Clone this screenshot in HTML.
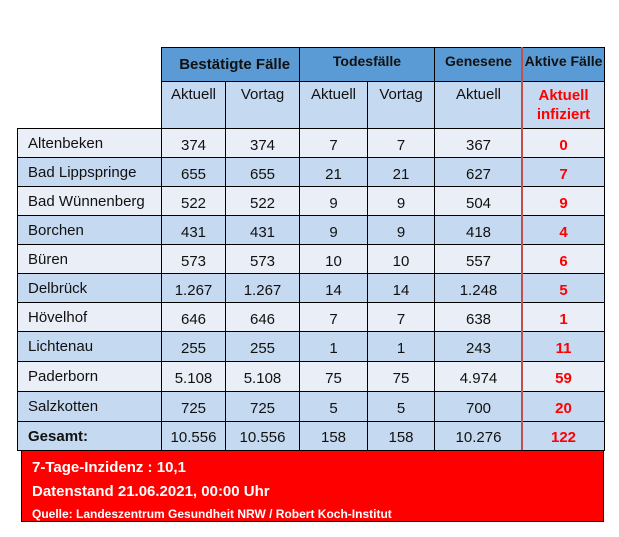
<!DOCTYPE html>
<html><head><meta charset="utf-8"><style>
body{margin:0;width:619px;height:537px;background:#fff;position:relative;overflow:hidden;font-family:"Liberation Sans",Arial,sans-serif}
.c{position:absolute;box-sizing:border-box;border:1px solid #000;display:flex;align-items:center;justify-content:center;font-size:15px;color:#111}
.red{color:#f00;font-weight:bold}
#foot{position:absolute;left:21px;top:450px;width:583px;height:72px;background:#f00;border:1px solid #000;box-sizing:border-box;color:#fff;font-weight:bold}
#foot div{position:absolute;left:10px}
</style></head><body>
<div id="tbl"></div>
<div id="foot">
<div style="top:8px;font-size:15px">7-Tage-Inzidenz : 10,1</div>
<div style="top:32px;font-size:15px">Datenstand 21.06.2021, 00:00 Uhr</div>
<div style="top:56px;font-size:12px">Quelle: Landeszentrum Gesundheit NRW / Robert Koch-Institut</div>
</div>
<script>
const towns=["Altenbeken","Bad Lippspringe","Bad Wünnenberg","Borchen","Büren","Delbrück","Hövelhof","Lichtenau","Paderborn","Salzkotten"];
const confirmedNow=["374","655","522","431","573","1.267","646","255","5.108","725"];
const confirmedPrev=["374","655","522","431","573","1.267","646","255","5.108","725"];
const deathsNow=["7","21","9","9","10","14","7","1","75","5"];
const deathsPrev=["7","21","9","9","10","14","7","1","75","5"];
const recovered=["367","627","504","418","557","1.248","638","243","4.974","700"];
const active=["0","7","9","4","6","5","1","11","59","20"];
const totals=["10.556","10.556","158","158","10.276","122"];
const xs=[17,161,225,299,367,434,522,604];
const T=document.getElementById('tbl');
function cell(x,y,w,h,txt,bg,name,extra){
  const d=document.createElement('div');
  d.className='c';
  d.style.cssText=`left:${x}px;top:${y}px;width:${w+1}px;height:${h+1}px;background:${bg};`+(extra||'');
  d.innerHTML=txt;
  
  
  T.appendChild(d);return d;
}
const H1='#5b9bd5',H2='#c5d9f0',L='#e9eef7';
cell(161,47,138,34,'<b style="font-size:15px">&nbsp;&nbsp;Bestätigte Fälle</b>',H1,'header-confirmed');
cell(299,47,135,34,'<b style="font-size:14px;margin-top:-8px">Todesfälle</b>',H1,'header-deaths');
cell(434,47,88,34,'<b style="font-size:14px;margin-top:-8px">Genesene</b>',H1,'header-recovered');
cell(522,47,82,34,'<b style="font-size:14px;margin-top:-8px">Aktive Fälle</b>',H1,'header-active');
const sub=["Aktuell","Vortag","Aktuell","Vortag","Aktuell"];
for(let i=0;i<5;i++) cell(xs[i+1],81,xs[i+2]-xs[i+1],47,sub[i],H2,'subheader-'+i,'align-items:flex-start;padding-top:4px;');
cell(522,81,82,47,'<span style="text-align:center;line-height:19px">Aktuell<br>infiziert</span>',H2,'subheader-active','color:#f00;font-weight:bold;');
const cols=[confirmedNow,confirmedPrev,deathsNow,deathsPrev,recovered,active];
const rowY=[128,157,186,215,244,273,302,331,361,391,421];
for(let r=0;r<towns.length;r++){
  const y=rowY[r],h=rowY[r+1]-y,bg=r%2?H2:L;
  cell(17,y,144,h,towns[r],bg,'row-label-'+r,'justify-content:flex-start;padding-left:10px;');
  for(let c=0;c<6;c++){
    const d=cell(xs[c+1],y,xs[c+2]-xs[c+1],h,cols[c][r],bg,'cell-'+r+'-'+c,'padding-top:4px;');
    if(c==5)d.classList.add('red');
  }
}
cell(17,421,144,29,'<b>Gesamt:</b>',H2,'total-label','justify-content:flex-start;padding-left:10px;');
for(let c=0;c<6;c++){
  const d=cell(xs[c+1],421,xs[c+2]-xs[c+1],29,totals[c],H2,'total-'+c,'padding-top:3px;');
  if(c==5)d.classList.add('red');
}
const ln=document.createElement('div');
ln.style.cssText='position:absolute;left:521px;top:47px;width:2px;height:404px;background:#c0504d';


T.appendChild(ln);
</script>
</body></html>
